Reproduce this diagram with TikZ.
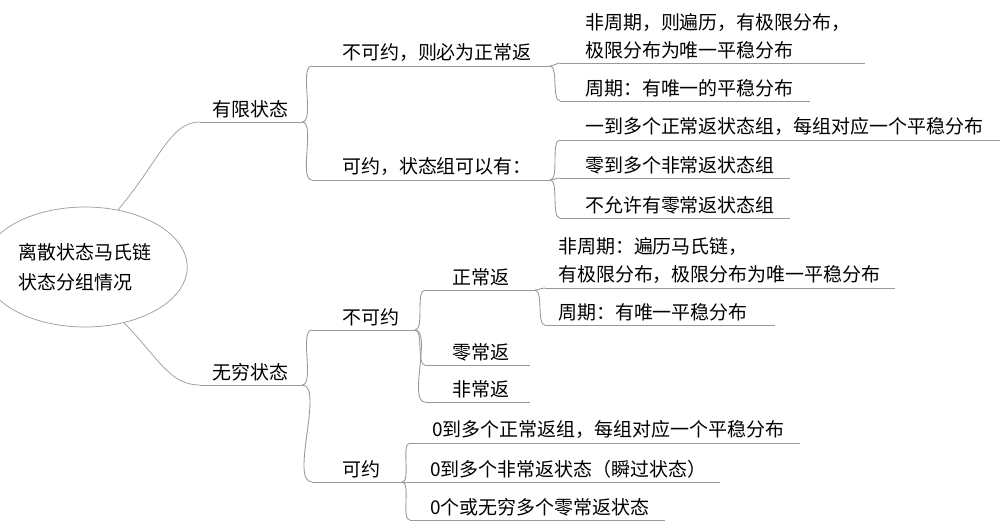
\documentclass[tikz,border=0pt]{standalone}
\usepackage{fontspec}
\setmainfont{Noto Sans CJK SC}
\usetikzlibrary{shapes.geometric}
\tikzset{
  lbl/.style={anchor=south west, inner sep=1pt, font=\fontsize{10.8}{16}\selectfont, align=left},
  bar/.style={draw=gray!80, line width=0.5pt},
  twig/.style={draw=gray!80, line width=0.5pt, out=0, in=180, looseness=0.6}
}
\begin{document}
\begin{tikzpicture}[x=0.02cm,y=-0.02cm]
  \useasboundingbox (0,0) rectangle (1001,522);
  % root
  \node[ellipse, draw=gray!80, minimum width=155*0.02cm, minimum height=120*0.02cm,
        font=\fontsize{10.8}{17}\selectfont, align=left] (root) at (85,267)
        {离散状态马氏链\\状态分组情况};
  % level 1
  \coordinate (fin0) at (200,122); \coordinate (fin1) at (302,122);
  \coordinate (inf0) at (200,385); \coordinate (inf1) at (302,385);
  \node[lbl] (fin) at (210,120) {有限状态};
  \node[lbl] (inf) at (210,383) {无穷状态};
  % level 2
  \coordinate (irr0) at (312,66);  \coordinate (irr1) at (550,66);
  \coordinate (red0) at (312,180); \coordinate (red1) at (550,180);
  \node[lbl] (irr) at (340,64) {不可约，则必为正常返};
  \node[lbl] (red) at (340,178) {可约，状态组可以有：};
  \coordinate (iirr0) at (312,330); \coordinate (iirr1) at (415,330);
  \coordinate (ired0) at (312,482); \coordinate (ired1) at (402,482);
  \node[lbl] (iirr) at (340,328) {不可约};
  \node[lbl] (ired) at (340,480) {可约};
  % level 3, finite
  \coordinate (a0) at (560,63);  \coordinate (a1) at (865,63);
  \coordinate (b0) at (560,101); \coordinate (b1) at (810,101);
  \node[lbl] (a) at (583,61) {非周期，则遍历，有极限分布，\\极限分布为唯一平稳分布};
  \node[lbl] (b) at (583,99) {周期：有唯一的平稳分布};
  \coordinate (c0) at (560,140); \coordinate (c1) at (1000,140);
  \coordinate (d0) at (560,178); \coordinate (d1) at (790,178);
  \coordinate (e0) at (560,218); \coordinate (e1) at (790,218);
  \node[lbl] (c) at (583,138) {一到多个正常返状态组，每组对应一个平稳分布};
  \node[lbl] (d) at (583,176) {零到多个非常返状态组};
  \node[lbl] (e) at (583,216) {不允许有零常返状态组};
  % level 3, infinite
  \coordinate (f0) at (425,290); \coordinate (f1) at (535,290);
  \coordinate (g0) at (425,365); \coordinate (g1) at (530,365);
  \coordinate (h0) at (425,402); \coordinate (h1) at (530,402);
  \node[lbl] (f) at (450,288) {正常返};
  \node[lbl] (g) at (450,363) {零常返};
  \node[lbl] (h) at (450,400) {非常返};
  \coordinate (i0) at (545,288); \coordinate (i1) at (895,288);
  \coordinate (j0) at (545,325); \coordinate (j1) at (775,325);
  \node[lbl] (i) at (556,286) {非周期：遍历马氏链，\\有极限分布，极限分布为唯一平稳分布};
  \node[lbl] (j) at (556,323) {周期：有唯一平稳分布};
  \coordinate (k0) at (410,443); \coordinate (k1) at (800,443);
  \coordinate (l0) at (410,482); \coordinate (l1) at (720,482);
  \coordinate (m0) at (410,520); \coordinate (m1) at (665,520);
  \node[lbl] (k) at (430,441) {0到多个正常返组，每组对应一个平稳分布};
  \node[lbl] (l) at (428,480) {0到多个非常返状态（瞬过状态）};
  \node[lbl] (m) at (428,518) {0个或无穷多个零常返状态};
  % underlines
  \foreach \u in {fin,inf,irr,red,iirr,ired,a,b,c,d,e,f,g,h,i,j,k,l,m}
    \draw[bar] (\u0) -- (\u1);
  % branches
  \draw[gray!80] (root.60) .. controls (160,160) and (170,122) .. (fin0);
  \draw[gray!80] (root.-55) .. controls (160,360) and (170,385) .. (inf0);
  \foreach \p/\c in {fin1/irr0, fin1/red0, irr1/a0, irr1/b0, red1/c0, red1/d0, red1/e0,
                     inf1/iirr0, inf1/ired0, iirr1/f0, iirr1/g0, iirr1/h0, f1/i0, f1/j0,
                     ired1/k0, ired1/l0, ired1/m0}
    \draw[twig] (\p) to (\c);
\end{tikzpicture}
\end{document}
